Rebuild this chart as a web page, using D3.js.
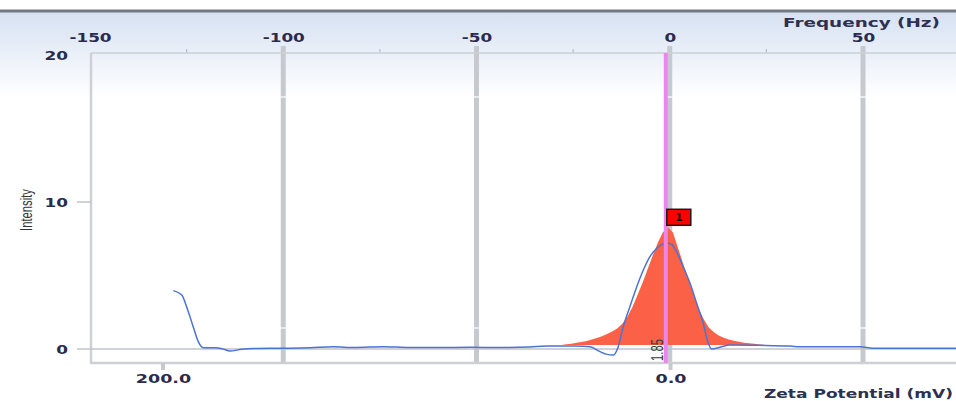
<!DOCTYPE html>
<html>
<head>
<meta charset="utf-8">
<script src="https://cdn.jsdelivr.net/npm/d3@7"></script>
<style>
  html, body { margin: 0; padding: 0; background: #fff; overflow: hidden; }
  svg { display: block; }
</style>
</head>
<body>
<svg id="chart" width="956" height="401"></svg>
<script>
// ---- Data ---------------------------------------------------------------
// Axis ticks
const zetaTicks = [200, 0];                    // Zeta Potential (mV), bottom
const freqTicks = [-150, -100, -50, 0, 50];    // Frequency (Hz), top
const freqMinorTicks = [-125, -75, -25, 25];
const intensityTicks = [0, 10, 20];

// Phase-plot curve: zeta position (mV) and intensity
const curveZeta = [195.9, 192.6, 190.7, 188.1, 186.1, 184.1, 179.5, 176.7, 173.6, 169.0,
  164.4, 153.9, 142.1, 133.0, 124.4, 113.3, 102.7, 90.8, 79.0, 67.2,
  55.4, 48.7, 37.6, 31.7, 27.8, 25.4, 22.5, 20.6, 18.6, 16.0,
  13.3, 10.7, 8.1, 5.4, 3.3, 0.9, -0.6, -2.4, -5.0, -7.7,
  -10.3, -12.9, -14.9, -16.2, -19.5, -23.5, -35.3, -47.1, -51.0, -74.7,
  -79.8, -113.0];
const curveIntensity = [3.97, 3.67, 2.88, 1.52, 0.50, 0.09, 0.08, 0.02, -0.14, -0.02,
  0.03, 0.05, 0.08, 0.15, 0.10, 0.16, 0.10, 0.10, 0.12, 0.10,
  0.14, 0.20, 0.20, 0.15, -0.18, -0.35, -0.41, 0.16, 1.52, 2.88,
  4.24, 5.37, 6.28, 6.85, 7.12, 7.20, 7.10, 6.62, 5.60, 4.47,
  3.11, 1.75, 0.39, 0.00, 0.12, 0.27, 0.25, 0.20, 0.15, 0.15,
  0.05, 0.05];

// Zeta distribution: bin centres (mV) and intensity
const binZeta = [43, 41, 39, 37, 35, 33, 31, 29, 27, 25,
  23, 21, 19, 17, 15, 13, 11, 9, 7, 5,
  3, 1, -1, -3, -5, -7, -9, -11, -13, -15,
  -17, -19, -21, -23, -25, -27, -29, -31, -33, -35, -37];
const binIntensity = [0.28, 0.32, 0.36, 0.42, 0.48, 0.55, 0.64, 0.75, 0.87, 1.02,
  1.19, 1.39, 1.72, 2.20, 2.85, 3.67, 4.50, 5.45, 6.36, 7.22,
  7.95, 8.28, 7.90, 6.85, 5.80, 4.80, 3.75, 2.78, 2.05, 1.48,
  1.15, 0.92, 0.76, 0.64, 0.56, 0.49, 0.43, 0.39, 0.35, 0.31, 0.28];
const binFloor = 0.27;

// Peak marker
const peakNumber = "1";
const peakZeta = 1.85;

// ---- Layout -------------------------------------------------------------
const W = 956, H = 401;
const plot = { left: 91, top: 53, right: 956, bottom: 363 };
const TEXT_STRETCH = 1.35;
const inkColor = "#2c2a4c";
const gridColor = "#c6cacf";
const frameColor = "#cdd0d5";

const svg = d3.select("#chart");

const x = d3.scaleLinear().domain([0, 200]).range([670.5, 163]);     // zeta (mV)
const fx = d3.scaleLinear().domain([-150, 50]).range([90, 863]);     // frequency (Hz)
const y = d3.scaleLinear().domain([0, 20]).range([349, 55]);         // intensity

// widen glyphs horizontally around each text's own anchor
function stretchX(sel, k = TEXT_STRETCH) {
  sel.each(function () {
    const t = d3.select(this);
    const tx = +t.attr("x") || 0;
    const ty = +t.attr("y") || 0;
    t.attr("x", 0).attr("y", 0)
     .attr("transform", `translate(${tx},${ty}) scale(${k},1)`);
  });
}

// ---- Background band ----------------------------------------------------
const defs = svg.append("defs");
const grad = defs.append("linearGradient")
  .attr("id", "band").attr("x1", 0).attr("x2", 0).attr("y1", 0).attr("y2", 1);
grad.append("stop").attr("offset", "0%").attr("stop-color", "#d6e1f2");
grad.append("stop").attr("offset", "45%").attr("stop-color", "#e9eff8");
grad.append("stop").attr("offset", "100%").attr("stop-color", "#ffffff");

svg.append("rect").attr("x", 0).attr("y", 0).attr("width", W).attr("height", H).attr("fill", "#fff");
svg.append("rect").attr("x", 0).attr("y", 12).attr("width", W).attr("height", 86).attr("fill", "url(#band)");
svg.append("rect").attr("x", 0).attr("y", 9.5).attr("width", W).attr("height", 3).attr("fill", "#707982");

defs.append("clipPath").attr("id", "plotClip")
  .append("rect")
  .attr("x", plot.left).attr("y", plot.top)
  .attr("width", plot.right - plot.left).attr("height", plot.bottom - plot.top);

// ---- Grid and frame -----------------------------------------------------
const gGrid = svg.append("g");
gGrid.selectAll("line.major").data(freqTicks.filter(d => fx(d) > plot.left + 3)).join("line")
  .attr("class", "major")
  .attr("x1", d => fx(d)).attr("x2", d => fx(d))
  .attr("y1", 46).attr("y2", plot.bottom)
  .attr("stroke", gridColor).attr("stroke-width", 5);
// thin breaks in the heavy grid lines
[97, 328].forEach(py => {
  gGrid.selectAll(null).data(freqTicks.filter(d => fx(d) > plot.left + 3)).join("rect")
    .attr("x", d => fx(d) - 3).attr("y", py - 0.6).attr("width", 6).attr("height", 1.2)
    .attr("fill", "#fff");
});
gGrid.selectAll("line.minor").data(freqMinorTicks).join("line")
  .attr("class", "minor")
  .attr("x1", d => fx(d)).attr("x2", d => fx(d))
  .attr("y1", 49).attr("y2", plot.top)
  .attr("stroke", "#b9bdc2").attr("stroke-width", 1.2);

// frame
svg.append("line").attr("x1", plot.left).attr("x2", plot.right).attr("y1", plot.top).attr("y2", plot.top)
  .attr("stroke", frameColor).attr("stroke-width", 1.5);
svg.append("line").attr("x1", plot.left).attr("x2", plot.right).attr("y1", plot.bottom).attr("y2", plot.bottom)
  .attr("stroke", frameColor).attr("stroke-width", 2.5);
svg.append("line").attr("x1", plot.left).attr("x2", plot.left).attr("y1", plot.top).attr("y2", plot.bottom + 1)
  .attr("stroke", frameColor).attr("stroke-width", 2.5);

// zero line and left ticks
svg.append("line").attr("x1", plot.left).attr("x2", plot.right).attr("y1", y(0)).attr("y2", y(0))
  .attr("stroke", "#bfc3c9").attr("stroke-width", 1.3);
svg.selectAll("line.ytick").data(intensityTicks.filter(d => d < 20)).join("line")
  .attr("class", "ytick")
  .attr("x1", 77).attr("x2", plot.left).attr("y1", d => y(d)).attr("y2", d => y(d))
  .attr("stroke", "#bfc3c9").attr("stroke-width", 1.5);

// bottom ticks (zeta)
svg.selectAll("line.ztick").data(zetaTicks).join("line")
  .attr("class", "ztick")
  .attr("x1", d => x(d)).attr("x2", d => x(d)).attr("y1", plot.bottom).attr("y2", 370)
  .attr("stroke", gridColor).attr("stroke-width", 4);

// ---- Series -------------------------------------------------------------
const gPlot = svg.append("g").attr("clip-path", "url(#plotClip)");

const bins = binZeta.map((z, i) => ({ z, v: binIntensity[i] }));
gPlot.append("path")
  .datum(bins)
  .attr("d", d3.area()
    .curve(d3.curveLinear)
    .x(d => x(d.z))
    .y0(y(binFloor))
    .y1(d => y(d.v)))
  .attr("fill", "#fa6146");

const curve = curveZeta.map((z, i) => ({ z, v: curveIntensity[i] }));
gPlot.append("path")
  .datum(curve)
  .attr("d", d3.line().curve(d3.curveMonotoneX).x(d => x(d.z)).y(d => y(d.v)))
  .attr("fill", "none")
  .attr("stroke", "#4a73d3")
  .attr("stroke-width", 1.5)
  .attr("stroke-linejoin", "round");

// peak position marker
svg.append("line")
  .attr("x1", x(peakZeta)).attr("x2", x(peakZeta))
  .attr("y1", plot.top).attr("y2", plot.bottom)
  .attr("stroke", "#ef84ea").attr("stroke-width", 4);

// peak badge
const peakTop = y(d3.max(binIntensity));
const badge = svg.append("g").attr("transform", `translate(${x(peakZeta)},${peakTop - 1})`);
badge.append("rect")
  .attr("x", 1).attr("y", -17).attr("width", 24).attr("height", 16)
  .attr("fill", "#ff0000").attr("stroke", "#1a1a1a").attr("stroke-width", 1.5);
badge.append("text")
  .attr("x", 13).attr("y", -5)
  .attr("text-anchor", "middle")
  .attr("font-family", "DejaVu Sans, sans-serif")
  .attr("font-weight", "bold")
  .attr("font-size", 10.5)
  .attr("fill", "#111")
  .text(peakNumber);

// peak value, written vertically beside the marker
svg.append("text")
  .attr("transform", `translate(${x(peakZeta) - 3},${361}) rotate(-90)`)
  .attr("font-family", "Liberation Sans Narrow, Liberation Sans, Arial, sans-serif")
  .attr("font-size", 16)
  .attr("textLength", 22)
  .attr("lengthAdjust", "spacingAndGlyphs")
  .attr("fill", "#3a3a3a")
  .text(d3.format(".2f")(peakZeta));

// ---- Axes labels --------------------------------------------------------
function styleAxis(g) {
  g.select(".domain").remove();
  g.selectAll(".tick line").remove();
  g.attr("font-family", "DejaVu Sans, Verdana, sans-serif")
   .attr("font-weight", "bold")
   .attr("fill", inkColor);
  g.selectAll("text").attr("fill", inkColor);
}

const gTop = svg.append("g").attr("transform", `translate(0,${plot.top})`)
  .call(d3.axisTop(fx).tickValues(freqTicks).tickFormat(d => String(d)).tickSize(0).tickPadding(11));
styleAxis(gTop);
gTop.attr("font-size", 12.5);
gTop.selectAll("text").attr("dy", 0);
stretchX(gTop.selectAll("text"));

const gBottom = svg.append("g").attr("transform", `translate(0,${plot.bottom})`)
  .call(d3.axisBottom(x).tickValues(zetaTicks).tickFormat(d3.format(".1f")).tickSize(0).tickPadding(20));
styleAxis(gBottom);
gBottom.attr("font-size", 13);
gBottom.selectAll("text").attr("dy", 0);
stretchX(gBottom.selectAll("text"));

const gLeft = svg.append("g").attr("transform", `translate(${plot.left},0)`)
  .call(d3.axisLeft(y).tickValues(intensityTicks).tickSize(0).tickPadding(23));
styleAxis(gLeft);
gLeft.attr("font-size", 12.5);
gLeft.selectAll("text").attr("dy", "0.36em");
stretchX(gLeft.selectAll("text"));

// axis titles
svg.append("text")
  .attr("x", 783).attr("y", 27)
  .attr("font-family", "DejaVu Sans, Verdana, sans-serif")
  .attr("font-size", 11.5)
  .attr("font-weight", "bold")
  .attr("textLength", 157)
  .attr("lengthAdjust", "spacingAndGlyphs")
  .attr("fill", "#2d3050")
  .text("Frequency (Hz)");

svg.append("text")
  .attr("x", 764).attr("y", 398)
  .attr("font-family", "DejaVu Sans, Verdana, sans-serif")
  .attr("font-size", 12.5)
  .attr("font-weight", "bold")
  .attr("textLength", 189)
  .attr("lengthAdjust", "spacingAndGlyphs")
  .attr("fill", "#2d3050")
  .text("Zeta Potential (mV)");

svg.append("text")
  .attr("transform", "translate(32,231) rotate(-90)")
  .attr("font-family", "Liberation Sans Narrow, Liberation Sans, Arial, sans-serif")
  .attr("font-size", 16)
  .attr("textLength", 42)
  .attr("lengthAdjust", "spacingAndGlyphs")
  .attr("fill", "#333")
  .text("Intensity");
</script>
</body>
</html>
